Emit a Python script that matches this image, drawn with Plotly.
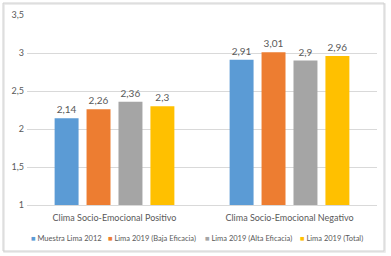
import plotly.graph_objects as go

categories = ["Clima Socio-Emocional Positivo", "Clima Socio-Emocional Negativo"]
series_names = ["Muestra Lima 2012", "Lima 2019 (Baja Eficacia)", "Lima 2019 (Alta Eficacia)", "Lima 2019 (Total)"]
muestra_2012 = [2.14, 2.91]
baja_eficacia = [2.26, 3.01]
alta_eficacia = [2.36, 2.90]
total_2019 = [2.30, 2.96]
y_ticks = [1, 1.5, 2, 2.5, 3, 3.5]

values = [muestra_2012, baja_eficacia, alta_eficacia, total_2019]
colors = ["#5B9BD5", "#ED7D31", "#A5A5A5", "#FFC000"]

FONT = "Lato"
TXT = "#595959"

L, R, T, B = 27, 14, 15, 51
W, H = 391, 256
PW, PH = W - L - R, H - T - B


def px_x(p):
    return (p - L) / PW


def px_y(p):
    return (H - B - p) / PH


fig = go.Figure()
for name, vals, col in zip(series_names, values, colors):
    fig.add_trace(go.Bar(
        x=categories, y=vals, name=name, marker=dict(color=col, line=dict(width=0)),
        text=[("%g" % v).replace(".", ",") for v in vals], textposition="outside",
        textfont=dict(family=FONT, size=10, color=TXT), cliponaxis=False,
        showlegend=False,
    ))

# Legend as real text with coloured square markers
legend_x = [29, 106, 203, 298]
annotations = []
for n, c, lx in zip(series_names, colors, legend_x):
    annotations.append(dict(
        text=f'<span style="color:{c}">■</span> {n}', xref="paper", yref="paper",
        x=px_x(lx), y=px_y(238), xanchor="left", yanchor="middle",
        showarrow=False, font=dict(family=FONT, size=7.5, color=TXT),
    ))

fig.update_layout(
    width=W, height=H,
    margin=dict(l=L, r=R, t=T, b=B, autoexpand=False),
    paper_bgcolor="white", plot_bgcolor="white",
    separators=",.",
    barmode="group", bargap=0.27, bargroupgap=0.25,
    font=dict(family=FONT, size=9, color=TXT),
    showlegend=False,
    xaxis=dict(showgrid=False, showline=True, linecolor="#D9D9D9", linewidth=1,
               ticks="", tickfont=dict(family=FONT, size=9, color=TXT), automargin=False,
               ticklabelstandoff=4),
    yaxis=dict(range=[1, 3.5], tickvals=y_ticks, showgrid=True, gridcolor="#D9D9D9",
               gridwidth=1, zeroline=False, showline=False, ticks="",
               tickfont=dict(family=FONT, size=9, color=TXT), automargin=False,
               ticklabelstandoff=2),
    annotations=annotations,
    shapes=[
        dict(type="rect", xref="paper", yref="paper",
             x0=px_x(4), x1=px_x(385), y0=px_y(252), y1=px_y(4),
             line=dict(color="#E6E6E6", width=1.5), fillcolor="rgba(0,0,0,0)", layer="below"),
        dict(type="rect", xref="paper", yref="paper",
             x0=px_x(3), x1=px_x(384), y0=px_y(251), y1=px_y(3),
             line=dict(color="#D0D0D0", width=1), fillcolor="rgba(0,0,0,0)", layer="below"),
    ],
)

fig.write_html("out.html", config={"displayModeBar": False},
               post_script="document.body.style.margin='0';document.body.style.padding='0';"
                           "document.documentElement.style.overflow='hidden';")
